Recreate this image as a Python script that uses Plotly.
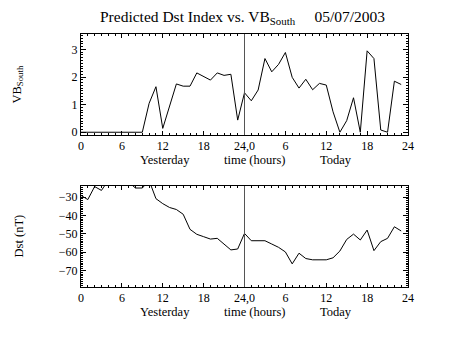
import plotly.graph_objects as go

hours = list(range(48))
vb_south = [0, 0, 0, 0, 0, 0, 0, 0, 0, 0,
            1.05, 1.65, 0.14, 0.95, 1.75, 1.67, 1.67, 2.15, 2.03, 1.89,
            2.15, 2.06, 2.10, 0.44, 1.43, 1.14, 1.53, 2.67, 2.19, 2.46,
            2.89, 1.99, 1.60, 1.92, 1.54, 1.77, 1.71, 0.74, 0.0, 0.42,
            1.25, 0.0, 2.95, 2.67, 0.08, 0.0, 1.85, 1.73]
dst = [-29.1, -31.4, -24.3, -26.4, -21, -19, -20, -22, -25.1, -25.1,
       -21, -30.9, -33.6, -35.7, -36.8, -39.4, -47.6, -50.3, -51.6, -52.9,
       -52.5, -55.6, -58.8, -58.3, -49.8, -53.8, -53.6, -53.8, -55.6, -57.4,
       -59.9, -66.4, -60.6, -63.5, -64.2, -64.4, -64.2, -63.1, -59.4, -53.1,
       -50.2, -53.4, -48.0, -59.2, -54.3, -52.5, -46.2, -48.5]
x_tickvals = [0, 6, 12, 18, 24, 30, 36, 42, 48]
x_ticktext = ["0", "6", "12", "18", "24,0", "6", "12", "18", "24"]
vb_ticks = [0, 1, 2, 3]
dst_ticks = [-30, -40, -50, -60, -70]
title_text = "Predicted Dst Index vs. VB<sub>South</sub>     05/07/2003"

FONT = "Liberation Serif"
W, H = 453, 340
L, R, T, B = 81, 45, 34, 53
pw = W - L - R
ph = H - T - B
top_dom = [1 - (135 - T) / ph, 1]
bot_dom = [0, (287 - 186) / ph]

fig = go.Figure()
fig.add_trace(go.Scatter(x=hours, y=vb_south, mode="lines",
                         line=dict(color="black", width=1), xaxis="x", yaxis="y",
                         showlegend=False))
fig.add_trace(go.Scatter(x=hours, y=dst, mode="lines",
                         line=dict(color="black", width=1), xaxis="x2", yaxis="y2",
                         showlegend=False))

axcommon = dict(showgrid=False, zeroline=False, showline=True, linecolor="black",
                linewidth=1, mirror="allticks", ticks="inside", tickcolor="black",
                tickfont=dict(family=FONT, size=12, color="black"))
xax = dict(axcommon, range=[0, 48], tickvals=x_tickvals, ticktext=x_ticktext,
           ticklen=4, minor=dict(ticks="inside", dtick=1, ticklen=2, tickcolor="black"))
fig.update_layout(
    width=W, height=H, margin=dict(l=L, r=R, t=T, b=B),
    paper_bgcolor="white", plot_bgcolor="white",
    xaxis=dict(xax, domain=[0, 1], anchor="y"),
    yaxis=dict(axcommon, domain=top_dom, range=[-0.1, 3.56], tickvals=vb_ticks,
               ticklen=5, minor=dict(ticks="inside", dtick=0.1, ticklen=2, tickcolor="black"),
               anchor="x"),
    xaxis2=dict(xax, domain=[0, 1], anchor="y2"),
    yaxis2=dict(axcommon, domain=bot_dom, range=[-79, -24], tickvals=dst_ticks,
                ticklen=5, minor=dict(ticks="inside", dtick=1, ticklen=2, tickcolor="black"),
                anchor="x2"),
)

# vertical separators at 24h
for xr, yr in (("x", "y domain"), ("x2", "y2 domain")):
    fig.add_shape(type="line", x0=24, x1=24, y0=0, y1=1, xref=xr, yref=yr,
                  line=dict(color="#555555", width=1))

ann_font = dict(family=FONT, size=12.5, color="black")
fig.add_annotation(text=title_text, x=0.495, y=1, xref="paper", yref="paper",
                   xanchor="center", yanchor="bottom", yshift=5, showarrow=False,
                   font=dict(family=FONT, size=15.5, color="black"))
for dom in (top_dom, bot_dom):
    for txt, xv in (("Yesterday", 12.4), ("time (hours)", 25.5), ("Today", 37.5)):
        fig.add_annotation(text=txt, x=xv / 48, y=dom[0], xref="paper", yref="paper",
                           xanchor="center", yanchor="top", yshift=-16, showarrow=False,
                           font=ann_font)
fig.add_annotation(text="VB<sub>South</sub>", x=(18 - L) / pw, y=(top_dom[0] + top_dom[1]) / 2,
                   xref="paper", yref="paper", xanchor="center", yanchor="middle",
                   textangle=-90, showarrow=False, font=ann_font)
fig.add_annotation(text="Dst (nT)", x=(18 - L) / pw, y=(bot_dom[0] + bot_dom[1]) / 2,
                   xref="paper", yref="paper", xanchor="center", yanchor="middle",
                   textangle=-90, showarrow=False, font=ann_font)

fig.write_html("out.html")
